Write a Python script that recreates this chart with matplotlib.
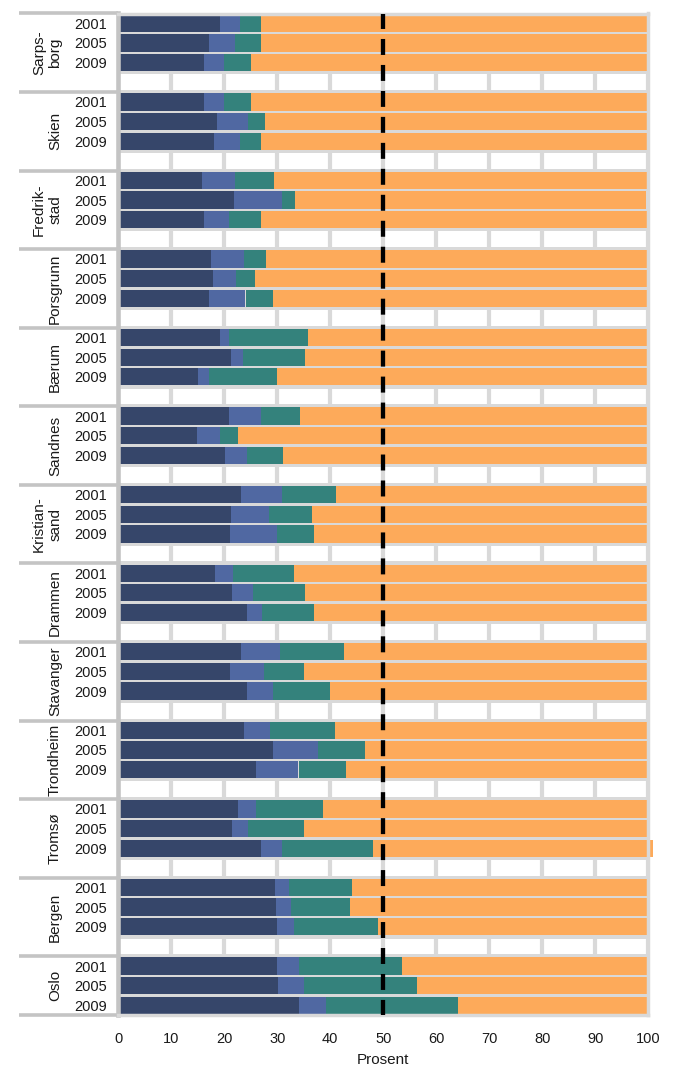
import matplotlib.pyplot as plt
import numpy as np

plt.rcParams['font.family'] = ['Liberation Sans', 'DejaVu Sans']
plt.rcParams['lines.scale_dashes'] = False

cities = ["Sarps-\nborg", "Skien", "Fredrik-\nstad", "Porsgrunn", "Bærum", "Sandnes",
          "Kristian-\nsand", "Drammen", "Stavanger", "Trondheim", "Tromsø", "Bergen", "Oslo"]
years = ["2001", "2005", "2009"]

# one value per city and year (2001, 2005, 2009), in the city order above
seg1 = [19.1, 17.2, 16.1,  16.1, 18.7, 18.1,  15.7, 21.9, 16.1,  17.5, 17.9, 17.2,
        19.1, 21.3, 15.1,  20.8, 14.9, 20.2,  23.2, 21.3, 21.1,  18.3, 21.5, 24.2,
        23.2, 21.1, 24.2,  23.8, 29.2, 26.0,  22.5, 21.5, 27.0,  29.6, 29.8, 30.0,
        30.0, 30.2, 34.0]
seg2 = [3.9, 4.9, 3.9,  3.9, 5.8, 4.9,  6.4, 9.0, 4.8,  6.3, 4.4, 6.8,
        1.8, 2.3, 2.0,  6.2, 4.2, 4.0,  7.7, 7.2, 8.9,  3.4, 4.0, 3.0,
        7.4, 6.4, 4.9,  4.9, 8.5, 8.0,  3.5, 3.0, 3.9,  2.7, 2.8, 3.2,
        4.0, 4.9, 5.1]
seg3 = [4.0, 4.9, 5.0,  5.0, 3.2, 4.0,  7.3, 2.4, 6.1,  4.1, 3.5, 5.1,
        14.9, 11.7, 12.9,  7.2, 3.4, 6.9,  10.2, 8.1, 7.0,  11.5, 9.8, 9.8,
        12.0, 7.6, 10.9,  12.1, 8.9, 9.0,  12.7, 10.6, 17.2,  11.7, 11.2, 15.8,
        19.6, 21.3, 24.9]
seg4 = [73.0, 73.0, 75.0,  75.0, 72.3, 73.0,  70.6, 66.3, 73.0,  72.1, 74.2, 70.9,
        64.2, 64.7, 70.0,  65.8, 77.5, 68.9,  58.9, 63.4, 63.0,  66.8, 64.7, 63.0,
        57.8, 64.9, 60.0,  59.2, 53.4, 57.0,  61.3, 64.9, 52.8,  56.0, 56.2, 51.0,
        46.4, 43.6, 36.0]

colors = ['#36466a', '#5068a2', '#34827c', '#fdaa5a']
grey = '#d9d9d9'

rows = np.array([4 * k + j for k in range(len(cities)) for j in range(3)])
n_rows = 4 * len(cities) - 1

fig = plt.figure(figsize=(6.87, 10.70), dpi=100)
ax = fig.add_axes([118.3 / 687, (1070 - 1015.1) / 1070, 530 / 687, (1015.1 - 13.5) / 1070])
ax.set_facecolor(grey)

# blank row under each city
for k in range(len(cities) - 1):
    ax.axhspan(4 * k + 3 - 0.4, 4 * k + 3 + 0.4, color='white', lw=0, zorder=0.3)

ax.set_axisbelow(True)
ax.grid(axis='x', color=grey, lw=3)

left = np.zeros(len(rows))
for vals, c in zip([seg1, seg2, seg3, seg4], colors):
    ax.barh(rows, vals, left=left, height=0.88, color=c, lw=0, zorder=2, clip_on=False)
    left += np.array(vals)

ax.plot([50, 50], [-0.5, n_rows - 0.5], color='black', lw=3.1,
        linestyle=(0, (11.5, 7.2)), zorder=3)

ax.set_xlim(0, 100)
ax.set_ylim(n_rows - 0.5, -0.5)
ax.set_xticks(range(0, 101, 10))
ax.set_yticks(rows)
ax.set_yticklabels(years * len(cities))
ax.tick_params(axis='x', length=0, pad=12, labelsize=10.5, colors='#1a1a1a')
ax.tick_params(axis='y', length=0, pad=8, labelsize=10.5, colors='#1a1a1a')
ax.set_xlabel("Prosent", fontsize=11, labelpad=5, color='#1a1a1a')

for side in ['top', 'right', 'bottom']:
    ax.spines[side].set_color(grey)
    ax.spines[side].set_linewidth(2.5)
ax.spines['left'].set_color('#c4c4c4')
ax.spines['left'].set_linewidth(3.3)

# city names and separators in the left margin
tr = ax.get_yaxis_transform()
for k, name in enumerate(cities):
    top = 4 * k - 0.5
    bottom = min(4 * k + 3.5, n_rows - 0.5)
    ax.text(-0.106, (top + bottom) / 2, name, transform=tr, rotation=90,
            ha='right', va='center', multialignment='center', fontsize=11, color='#1a1a1a')
    ax.plot([-0.187, 0], [top, top], transform=tr, color='#c4c4c4', lw=2.6,
            solid_capstyle='butt', clip_on=False)
ax.plot([-0.187, 0], [n_rows - 0.5, n_rows - 0.5], transform=tr, color='#c4c4c4', lw=2.6,
        solid_capstyle='butt', clip_on=False)

fig.savefig('out.png', dpi=100)
